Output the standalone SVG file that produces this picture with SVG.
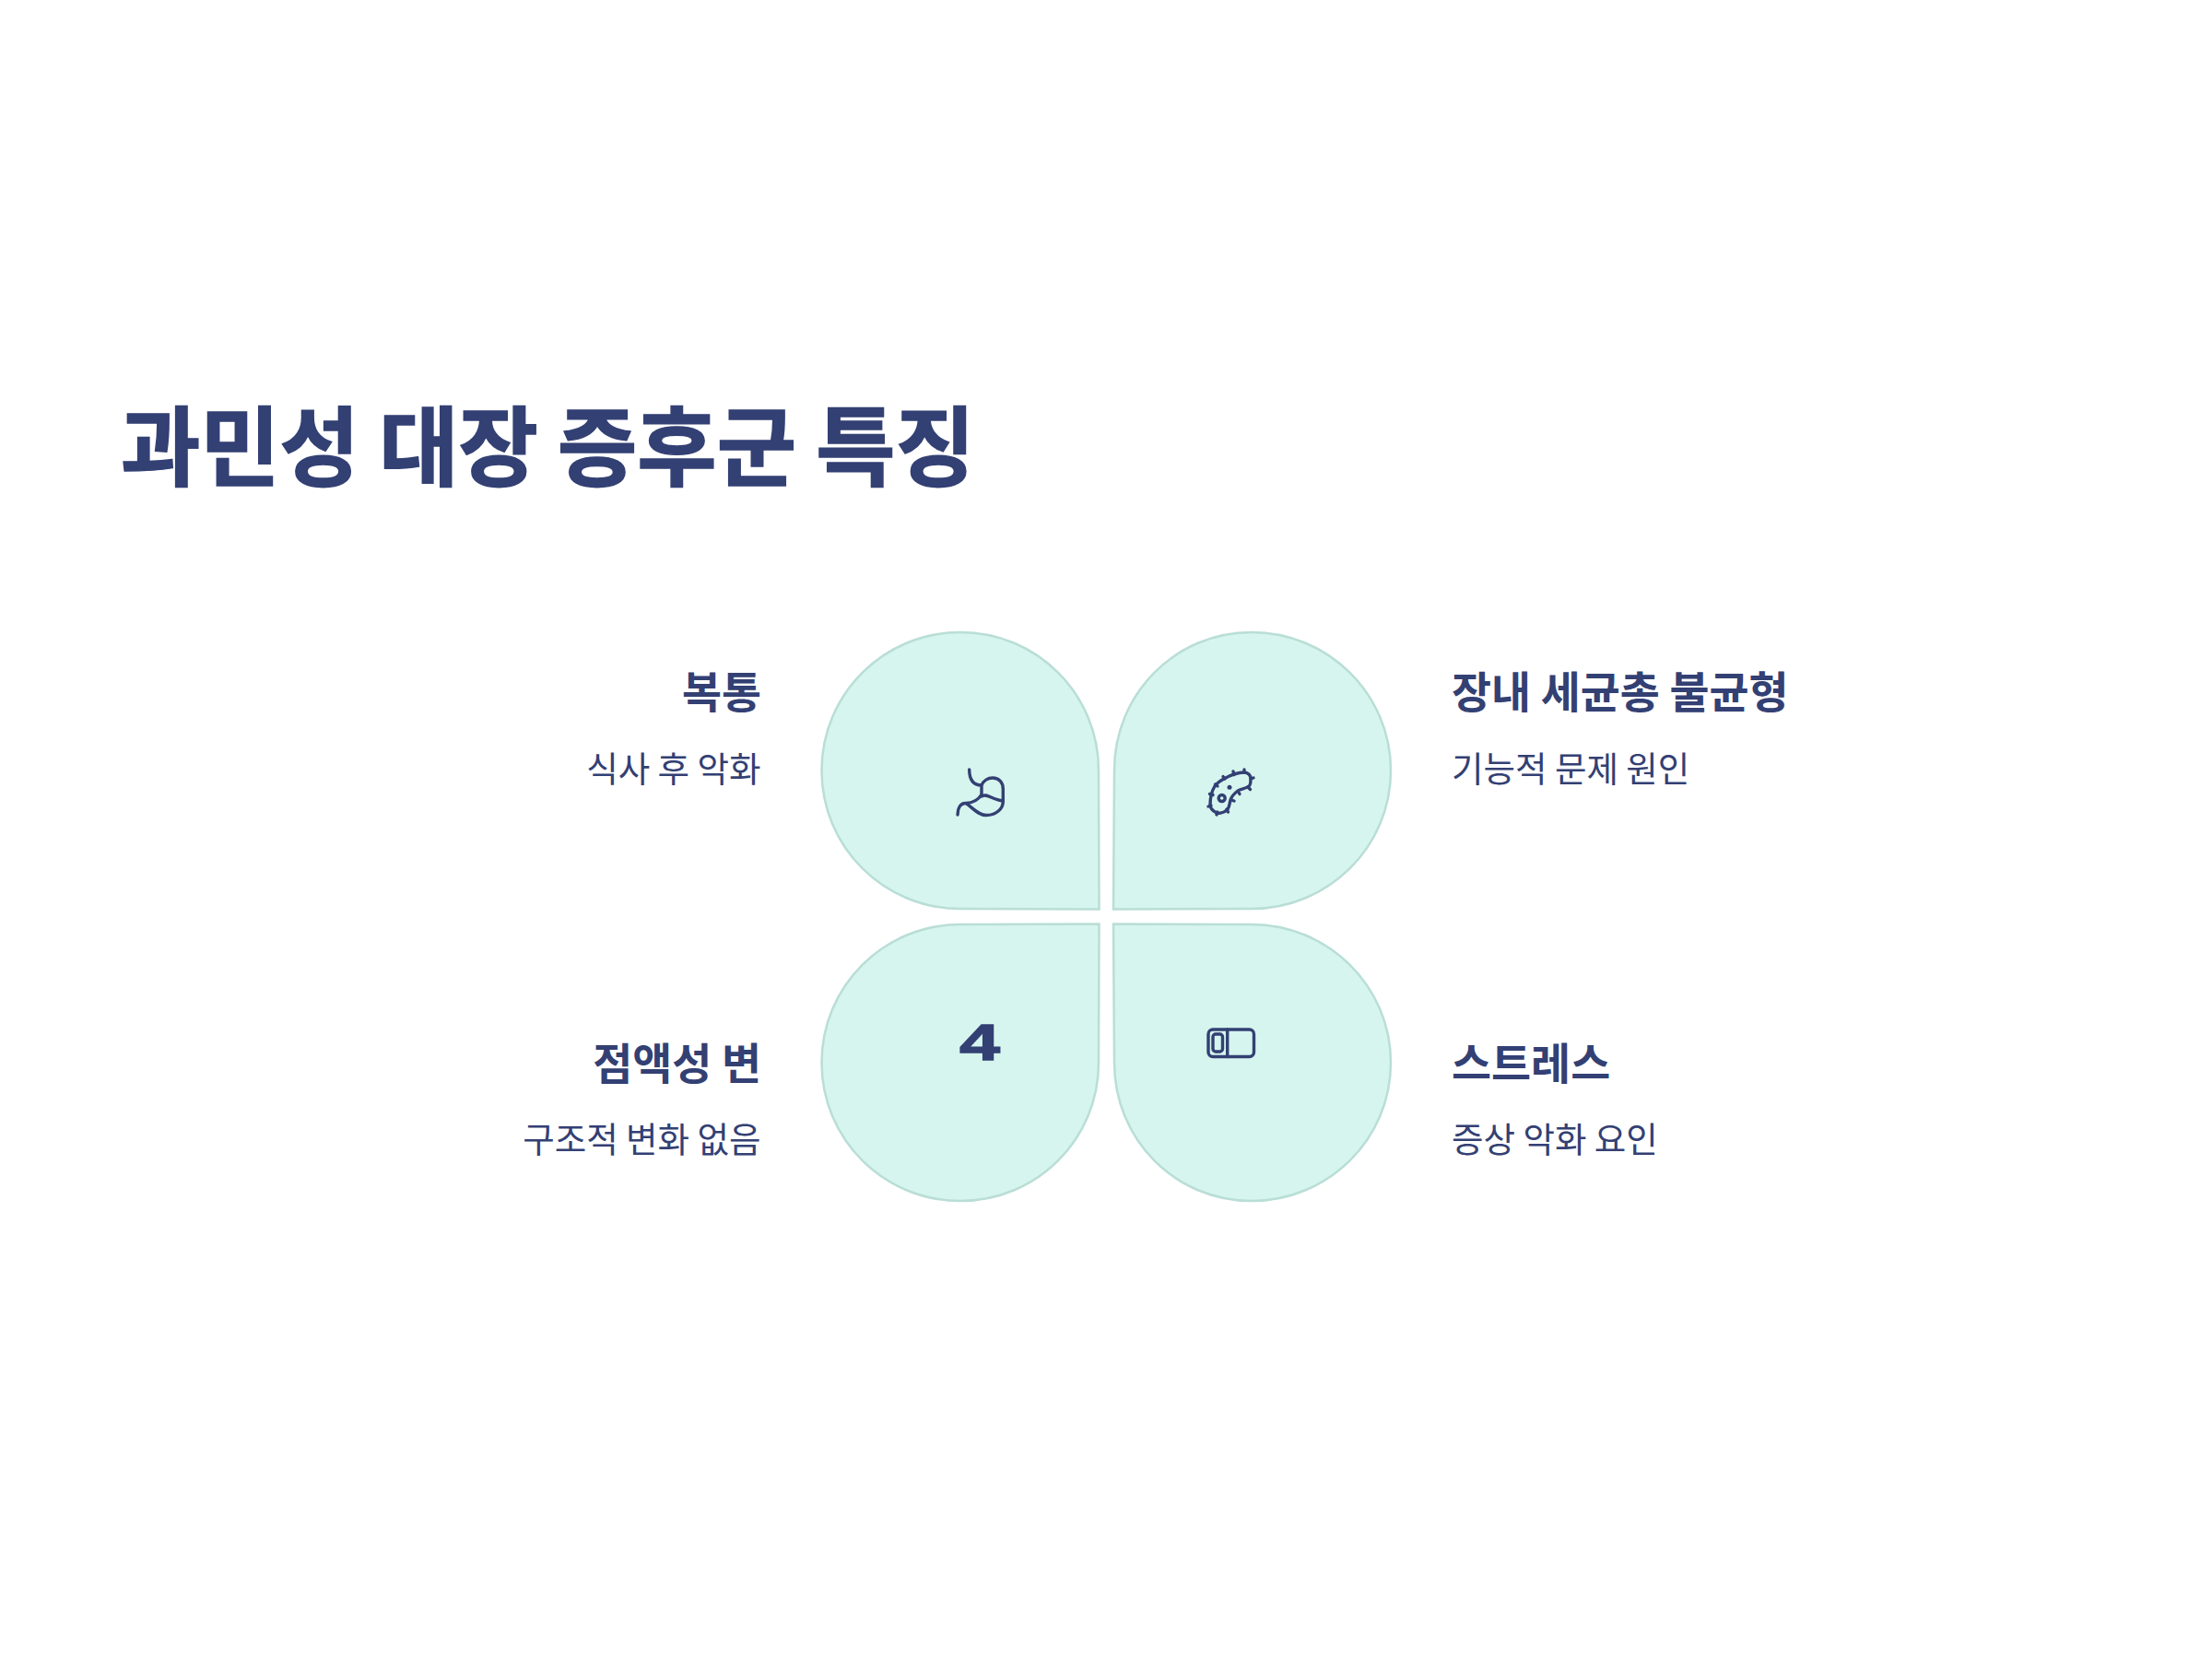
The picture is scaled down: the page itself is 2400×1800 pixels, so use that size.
<svg xmlns="http://www.w3.org/2000/svg" width="2400" height="1800" viewBox="0 0 2400 1800">
<style>
text{font-family:"Noto Sans CJK KR","Noto Sans",sans-serif;fill:#334073}
.title{font-size:93.800px;font-weight:700;stroke:#334073;stroke-width:1.500px}
.h{font-size:46.800px;font-weight:700}
.d{font-size:37.500px;font-weight:400}
.e{text-anchor:end}
.petal{fill:#d6f5ee;stroke:#b9ded6;stroke-width:2.500}
.ic{fill:none;stroke:#334073;stroke-width:3.400;stroke-linecap:round;stroke-linejoin:round}
</style>
<rect width="2400" height="1800" fill="#fff"/>
<text class="title" x="131" y="520">과민성 대장 증후군 특징</text>
<g id="node-tl">
<path class="petal" d="M1192.500 986.500L1042 986C959 986 891.500 919 891.500 836C891.500 753 959 686 1042 686C1125 686 1192 753 1192 836Z"/>
<path class="ic" d="M1051.700 835C1051.700 846 1056 852 1065 852C1067 847 1072 844 1077 844C1084 844 1088.300 849 1088.300 856V870C1088.300 878 1080 884.500 1070 884.500C1061 884.500 1055 876 1048 871.500C1042 871 1039 877 1039 884M1065 852V862C1062 867 1056 871 1048 871.500M1065 864C1071 860 1076 868 1088.300 869"/>
<text class="h e" x="826" y="767.500">복통</text>
<text class="d e" x="825.500" y="847.500">식사 후 악화</text>
</g>
<g id="node-tr">
<path class="petal" d="M1208 986.500L1358 986C1441 986 1509 919 1509 836C1509 753 1441 686 1358 686C1275 686 1209 753 1209 836Z"/>
<g class="ic">
<path d="M1313 873C1313 864 1315 858 1318 853C1321 849 1324 847 1328 845C1335 841 1343 838 1350 838C1354 838 1357 841 1357 845C1357 849 1357 852 1355 853C1351 856 1347 856 1343 858C1339 861 1336 865 1335 868C1334 872 1334 875 1332 878C1329 881 1324 883 1320 882C1316 880 1313 877 1313 873Z"/>
<circle cx="1325.700" cy="866" r="3.500"/>
<path d="M1350 835V838M1338 837L1339 840.500M1327 842.500L1329 845M1318.500 851L1321 853M1312.500 861.500L1316 862.500M1311 875L1314 874M1320 884L1321 881M1332.500 881L1331 878M1339 869L1336 868M1345 861.500L1343.500 859M1356.500 856.500L1354 854M1360 844L1357 845"/>
</g>
<circle cx="1334" cy="854.300" r="2.500" fill="#334073"/>
<text class="h" x="1575" y="768">장내 세균총 불균형</text>
<text class="d" x="1575" y="847.500">기능적 문제 원인</text>
</g>
<g id="node-bl">
<path class="petal" d="M1192.500 1002.500L1042 1003C959 1003 891.500 1070 891.500 1153C891.500 1236 959 1303 1042 1303C1125 1303 1192 1236 1192 1153Z"/>
<text transform="translate(1063 1150) scale(1.4 1)" x="0" y="0" style="font-family:'Liberation Sans',sans-serif;font-weight:700;font-size:56px;stroke:#334073;stroke-width:1.500px" text-anchor="middle">4</text>
<text class="h e" x="826" y="1170.500">점액성 변</text>
<text class="d e" x="825.500" y="1249.500">구조적 변화 없음</text>
</g>
<g id="node-br">
<path class="petal" d="M1208 1002.500L1358 1003C1441 1003 1509 1070 1509 1153C1509 1236 1441 1303 1358 1303C1275 1303 1209 1236 1209 1153Z"/>
<g class="ic">
<rect x="1311" y="1117" width="49.500" height="29.500" rx="5"/>
<rect x="1316" y="1122" width="10.500" height="19" rx="3"/>
<path d="M1331.700 1117V1146.500"/>
</g>
<text class="h" x="1575" y="1170.500">스트레스</text>
<text class="d" x="1575" y="1249.500">증상 악화 요인</text>
</g>
<g id="connectors"/>
</svg>
